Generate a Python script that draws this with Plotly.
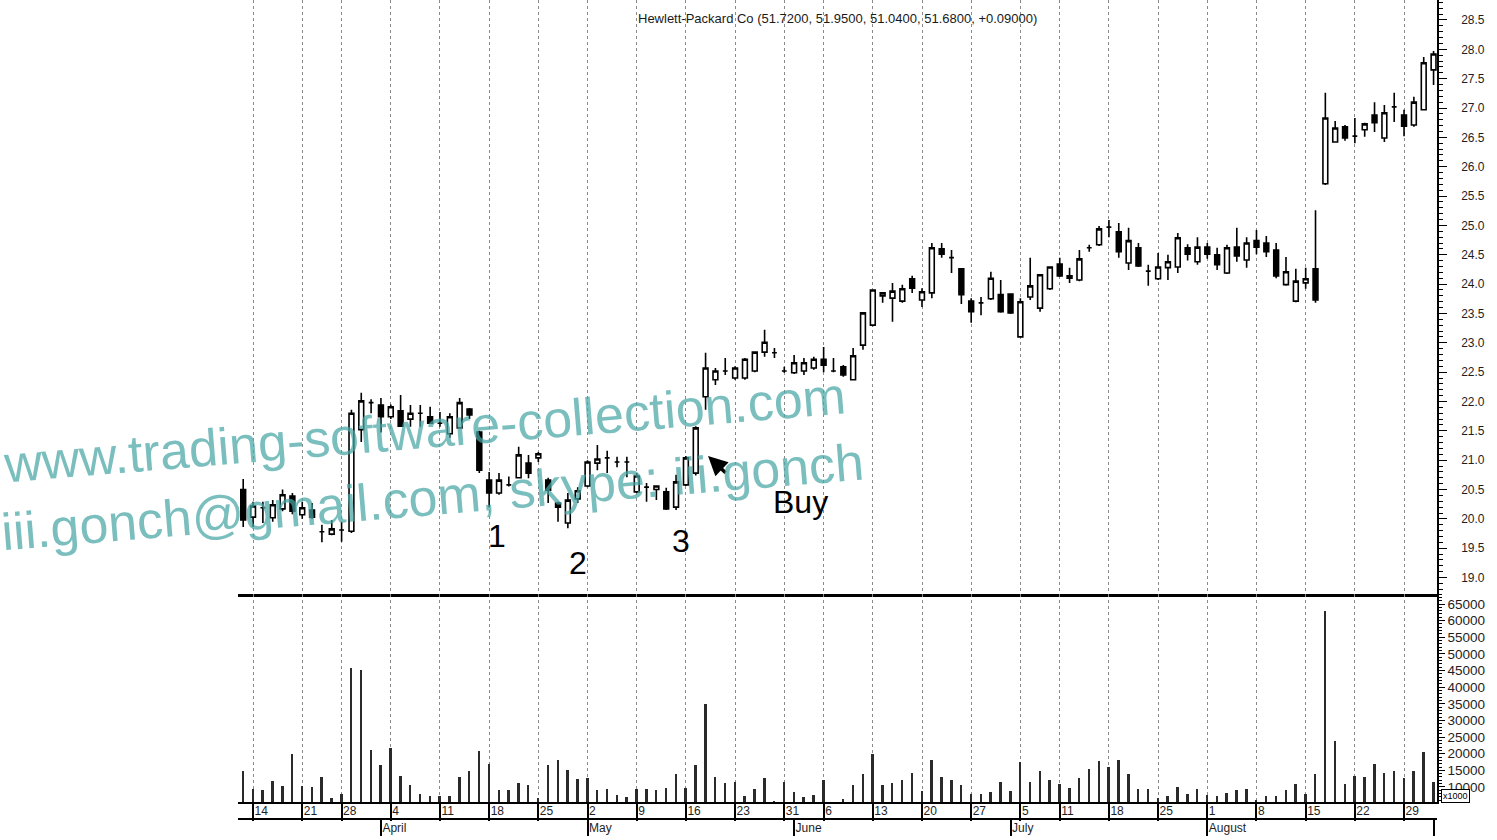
import pandas as pd
import plotly.graph_objects as go

# Trading sessions: weekdays between first and last session, minus market holidays
holidays = ["2005-03-25", "2005-05-30", "2005-07-04"]
dates = [d for d in pd.bdate_range("2005-03-11", "2005-09-01")
         if d.strftime("%Y-%m-%d") not in holidays]

opens = [20.50, 20.03, 20.19, 20.02, 20.17, 20.39, 20.07, 20.15, 19.78, 19.74,
         19.81, 19.79, 21.52, 21.98, 21.94, 21.74, 21.84, 21.70, 21.80, 21.74,
         21.63, 21.45, 21.55, 21.87, 21.48, 20.66, 20.44, 20.58, 20.70, 20.95,
         21.04, 20.66, 20.27, 19.93, 20.34, 20.56, 20.95, 21.04, 20.97, 20.97,
         20.46, 20.54, 20.50, 20.46, 20.20, 20.58, 20.78, 22.08, 22.37, 22.52,
         22.40, 22.40, 22.52, 22.84, 22.83, 22.52, 22.49, 22.52, 22.57, 22.72,
         22.52, 22.59, 22.37, 22.96, 23.30, 23.80, 23.76, 23.71, 24.09, 23.73,
         23.85, 24.60, 24.45, 24.26, 23.71, 23.68, 23.75, 23.82, 23.83, 23.10,
         23.78, 23.59, 23.92, 24.34, 24.10, 24.07, 24.62, 24.67, 24.97, 24.89,
         24.36, 24.62, 24.22, 24.09, 24.28, 24.29, 24.62, 24.38, 24.63, 24.50,
         24.19, 24.63, 24.41, 24.74, 24.70, 24.58, 23.99, 23.71, 24.02, 24.26,
         25.71, 26.42, 26.68, 26.52, 26.63, 26.88, 26.49, 27.02, 26.88, 26.71,
         26.97, 27.65]
highs = [20.68, 20.29, 20.29, 20.32, 20.50, 20.44, 20.29, 20.27, 19.90, 19.98,
         19.95, 21.86, 22.15, 22.04, 22.06, 21.95, 22.11, 21.94, 21.94, 21.91,
         21.82, 21.80, 22.06, 21.89, 21.50, 20.80, 20.78, 20.72, 21.23, 21.09,
         21.14, 20.70, 20.29, 20.44, 20.54, 21.00, 21.26, 21.16, 21.06, 21.06,
         20.78, 20.61, 20.56, 20.53, 20.75, 21.07, 21.58, 22.83, 22.57, 22.74,
         22.60, 22.74, 22.84, 23.22, 22.91, 22.59, 22.79, 22.74, 22.76, 22.93,
         22.74, 22.62, 22.91, 23.51, 23.91, 23.85, 24.02, 23.99, 24.14, 23.93,
         24.70, 24.70, 24.58, 24.26, 23.76, 23.78, 24.21, 24.07, 23.83, 23.76,
         24.45, 24.16, 24.30, 24.45, 24.28, 24.58, 24.67, 24.99, 25.09, 25.04,
         24.96, 24.70, 24.33, 24.53, 24.50, 24.87, 24.68, 24.80, 24.70, 24.62,
         24.67, 24.96, 24.80, 24.92, 24.82, 24.70, 24.46, 24.26, 24.28, 25.26,
         27.26, 26.78, 26.71, 26.83, 26.75, 27.10, 27.05, 27.26, 26.97, 27.19,
         27.87, 27.97]
lows = [19.86, 19.86, 19.93, 19.95, 20.13, 20.08, 20.00, 20.00, 19.60, 19.72,
        19.61, 19.76, 21.31, 21.80, 21.47, 21.70, 21.57, 21.57, 21.57, 21.63,
        21.57, 21.38, 21.55, 21.70, 20.78, 20.20, 20.41, 20.55, 20.69, 20.69,
        20.97, 20.27, 19.95, 19.84, 20.27, 20.54, 20.83, 20.78, 20.88, 20.71,
        20.44, 20.29, 20.32, 20.15, 20.15, 20.56, 20.74, 21.86, 22.28, 22.45,
        22.37, 22.37, 22.50, 22.76, 22.74, 22.49, 22.47, 22.45, 22.54, 22.50,
        22.50, 22.42, 22.37, 22.88, 23.28, 23.68, 23.36, 23.68, 23.85, 23.61,
        23.76, 24.45, 24.19, 23.66, 23.34, 23.47, 23.73, 23.51, 23.49, 23.10,
        23.73, 23.53, 23.90, 24.12, 24.02, 24.05, 24.55, 24.65, 24.80, 24.45,
        24.24, 24.29, 23.97, 24.07, 24.07, 24.19, 24.40, 24.33, 24.43, 24.24,
        24.17, 24.38, 24.28, 24.51, 24.46, 24.10, 23.97, 23.69, 23.92, 23.68,
        25.69, 26.42, 26.44, 26.40, 26.51, 26.59, 26.42, 26.76, 26.52, 26.68,
        26.97, 27.39]
closes = [19.98, 20.22, 20.19, 20.24, 20.41, 20.13, 20.19, 20.03, 19.78, 19.83,
          19.81, 21.80, 22.01, 21.98, 21.74, 21.91, 21.58, 21.80, 21.80, 21.63,
          21.63, 21.74, 21.98, 21.77, 20.83, 20.44, 20.66, 20.58, 21.09, 20.78,
          21.11, 20.49, 20.20, 20.32, 20.48, 20.97, 21.02, 21.04, 20.97, 20.97,
          20.73, 20.54, 20.56, 20.17, 20.63, 21.04, 21.55, 22.57, 22.52, 22.52,
          22.57, 22.72, 22.84, 23.01, 22.83, 22.52, 22.66, 22.66, 22.72, 22.62,
          22.52, 22.45, 22.78, 23.51, 23.90, 23.85, 23.88, 23.92, 23.93, 23.87,
          24.62, 24.51, 24.45, 23.82, 23.53, 23.68, 24.10, 23.53, 23.51, 23.70,
          23.97, 24.16, 24.29, 24.14, 24.14, 24.43, 24.62, 24.94, 24.97, 24.55,
          24.74, 24.31, 24.22, 24.29, 24.38, 24.79, 24.51, 24.63, 24.51, 24.33,
          24.62, 24.48, 24.70, 24.63, 24.55, 24.14, 24.21, 24.05, 24.09, 23.73,
          26.83, 26.66, 26.49, 26.52, 26.73, 26.75, 26.92, 27.02, 26.69, 27.10,
          27.77, 27.92]
volumes = [14700, 9300, 9100, 11800, 10300, 19900, 10300, 10100, 12900, 6600,
           7900, 45700, 45200, 21000, 16700, 21700, 13400, 10600, 7900, 7400,
           7400, 7400, 12900, 14700, 20700, 17000, 9100, 9100, 11100, 10600,
           6600, 16700, 18200, 15000, 12300, 12600, 9100, 9400, 7600, 7100,
           9400, 9400, 9100, 9800, 13800, 9600, 16700, 34800, 12900, 11100,
           11400, 7400, 9400, 12600, 5800, 11400, 8600, 7100, 7600, 12100,
           5600, 6300, 10600, 13800, 19900, 10600, 11100, 12100, 14300, 8800,
           18200, 12900, 12100, 10600, 7900, 7900, 8400, 11400, 8800, 17500,
           11400, 14700, 12100, 10800, 9800, 12600, 15400, 17700, 16000, 18000,
           13800, 9400, 9400, 6600, 7400, 10100, 7800, 9400, 7600, 7300,
           8100, 9100, 9400, 6200, 7400, 7300, 9100, 10900, 7800, 13800,
           63000, 23700, 10900, 13400, 12900, 17000, 14300, 14700, 12800, 14700,
           20500, 11400]

month_names = {4: "April", 5: "May", 6: "June", 7: "July", 8: "August"}
title_text = "Hewlett-Packard Co (51.7200, 51.9500, 51.0400, 51.6800, +0.09000)"
price_ticks_step = 0.5
volume_ticks_step = 5000
watermark_lines = ["www.trading-software-collection.com",
                   "iii.gonch@gmail.com, skype: iii.gonch"]
wave_labels = ["1", "2", "3"]
wave_label_x = [25.8, 34.0, 44.5]
wave_label_y = [19.71, 19.25, 19.62]

# Sessions are plotted by position so weekends and holidays leave no gaps
idx = list(range(len(dates)))
week_ticks = [i for i in idx[1:]
              if dates[i].isocalendar()[1] != dates[i - 1].isocalendar()[1]]
week_labels = [str(dates[i].day) for i in week_ticks]
month_ticks = [i for i in idx[1:] if dates[i].month != dates[i - 1].month]
month_labels = [month_names.get(dates[i].month, "") for i in month_ticks]

FONT = "Liberation Sans"
x_range = [-0.53, 121.35]

fig = go.Figure()
fig.add_trace(go.Candlestick(
    x=idx, open=opens, high=highs, low=lows, close=closes,
    increasing=dict(line=dict(color="black", width=1.6), fillcolor="white"),
    decreasing=dict(line=dict(color="black", width=1.6), fillcolor="black"),
    whiskerwidth=0, xaxis="x", yaxis="y", showlegend=False,
))
fig.add_trace(go.Bar(
    x=idx, y=volumes, width=0.2,
    marker=dict(color="#2a2a2a", line=dict(width=0)),
    xaxis="x2", yaxis="y2", showlegend=False,
))
# carrier trace so the month axis is drawn
fig.add_trace(go.Scatter(x=[None], y=[None], xaxis="x3", yaxis="y2",
                         showlegend=False, hoverinfo="skip"))

grid = dict(range=x_range, tickvals=week_ticks, showgrid=True,
            gridcolor="#8a8a8a", griddash="dot", gridwidth=1, zeroline=False)

fig.update_layout(
    width=1497, height=840,
    margin=dict(l=238, r=60, t=0, b=5),
    paper_bgcolor="white", plot_bgcolor="white",
    font=dict(family=FONT, color="#1e1e1e", size=12),
    bargap=0,
    xaxis=dict(**grid, anchor="y", showticklabels=False, ticks="",
               showline=True, linecolor="black", linewidth=2.5,
               rangeslider=dict(visible=False)),
    xaxis2=dict(**grid, anchor="y2", matches="x", ticktext=week_labels,
                ticks="outside", ticklen=17, tickwidth=1.5, tickcolor="black",
                showline=True, linecolor="black", linewidth=1.5,
                ticklabelposition="outside right", ticklabelstandoff=-3,
                tickfont=dict(size=12, family=FONT, color="#1e1e1e")),
    xaxis3=dict(range=x_range, overlaying="x2", anchor="free",
                position=1 - 819 / 835, tickvals=month_ticks,
                ticktext=month_labels, ticks="outside", ticklen=16,
                tickwidth=1.5, tickcolor="black", showline=True,
                linecolor="black", linewidth=1.5, showgrid=False,
                zeroline=False, ticklabelposition="outside right",
                ticklabelstandoff=-2,
                tickfont=dict(size=12, family=FONT, color="#1e1e1e")),
    yaxis=dict(domain=[1 - 594 / 835, 1], range=[18.72, 28.84], side="right",
               tick0=0, dtick=price_ticks_step, tickformat=".1f",
               ticks="outside", ticklen=8, tickwidth=1, tickcolor="black",
               showline=True, linecolor="black", linewidth=1.5,
               showgrid=False, zeroline=False, ticklabelstandoff=12,
               minor=dict(dtick=0.1, tick0=0, ticks="outside", ticklen=4,
                          tickcolor="black", showgrid=False),
               tickfont=dict(size=12, family=FONT, color="#1e1e1e")),
    yaxis2=dict(domain=[1 - 802 / 835, 1 - 594 / 835], range=[5480, 68010],
                side="right", tick0=0, dtick=volume_ticks_step, tickformat="d",
                ticks="outside", ticklen=6, tickwidth=1, tickcolor="black",
                showline=True, linecolor="black", linewidth=1.5,
                showgrid=False, zeroline=False, ticklabelstandoff=0,
                minor=dict(dtick=1000, tick0=0, ticks="outside", ticklen=3,
                           tickcolor="black", showgrid=False),
                tickfont=dict(size=13.5, family=FONT, color="#1e1e1e")),
)

# chart title inside the price panel
fig.add_annotation(text=title_text, xref="paper", yref="paper",
                   x=(837 - 238) / 1199, y=1 - 18 / 835, showarrow=False,
                   xanchor="center", yanchor="middle",
                   font=dict(size=13, family=FONT, color="#1a1a1a"))

# wave count and entry signal
for t, xv, yv in zip(wave_labels, wave_label_x, wave_label_y):
    fig.add_annotation(text=t, x=xv, y=yv, xref="x", yref="y",
                       showarrow=False,
                       font=dict(size=32, family=FONT, color="black"))
fig.add_annotation(text="Buy", x=56.6, y=20.29, xref="x", yref="y",
                   showarrow=False, font=dict(size=32, family=FONT, color="black"))
fig.add_annotation(text="", x=47.25, y=21.07, xref="x", yref="y",
                   ax=19, ay=18, showarrow=True, arrowhead=2, arrowsize=1.1,
                   arrowwidth=3.5, arrowcolor="black")

# volume unit box
fig.add_annotation(text="x1000", xref="paper", yref="paper",
                   x=(1455 - 238) / 1199, y=1 - 796 / 835, showarrow=False,
                   xanchor="center", yanchor="middle",
                   bgcolor="white", bordercolor="black", borderwidth=1,
                   borderpad=1, font=dict(size=9, family=FONT, color="black"))

# watermark
for line, (cx, cy) in zip(watermark_lines, [(424, 430), (432, 497)]):
    fig.add_annotation(text=line, xref="paper", yref="paper",
                       x=(cx - 238) / 1199, y=1 - cy / 835, showarrow=False,
                       xanchor="center", yanchor="middle", textangle=-4.7,
                       font=dict(size=52, family=FONT,
                                 color="rgba(70,165,165,0.72)"))

fig.write_html("out.html")
